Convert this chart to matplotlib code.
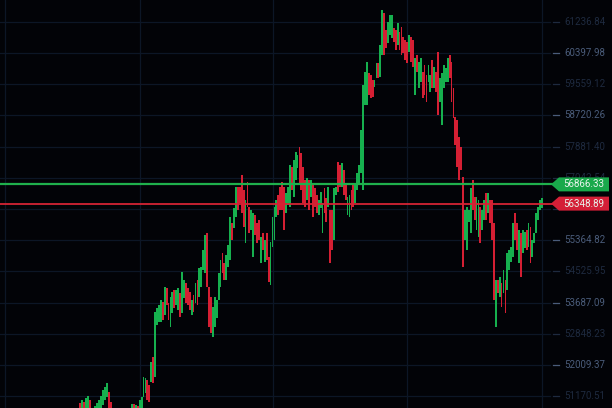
import matplotlib
matplotlib.use('Agg')
import matplotlib.pyplot as plt
from matplotlib.patches import Polygon
from matplotlib.transforms import blended_transform_factory

# candle open / close prices, left to right
opens = [
    50984, 50796, 51011, 50742, 50850, 51065, 50850, 50742, 50527, 50688,
    50742, 50796, 50930, 51065, 51146, 51280, 51011, 50796, 50661, 50204,
    50527, 50258, 50392, 50634, 50742, 50419, 50527, 50634, 50957, 50661,
    50904, 50742, 50796, 51146, 51253, 51603, 51469, 51549, 52222, 51684,
    53083, 53164, 53164, 53702, 53352, 54079, 53675, 53029, 53406, 54025,
    53621, 53487, 53944, 53406, 53810, 54213, 54079, 53971, 53352, 53891,
    53675, 54294, 53837, 54106, 54563, 54483, 55559, 54106, 53837, 52760,
    53029, 53272, 53756, 54106, 55021, 54752, 54294, 54644, 54832, 55828,
    55694, 55990, 56797, 56797, 57120, 56716, 55290, 56931, 56259, 55640,
    54913, 56043, 55828, 55909, 54752, 55559, 54779, 55559, 54913, 54160,
    55182, 55371, 55990, 56582, 56797, 56931, 56797, 56097, 56312, 56259,
    57335, 56528, 56985, 57308, 57873, 57712, 57335, 56985, 56447, 56985,
    56528, 56851, 56770, 56582, 56043, 56232, 55559, 56770, 56501, 56259,
    56178, 56178, 55371, 56582, 57470, 57389, 56797, 57254, 56904, 56043,
    55990, 56716, 56851, 56366, 56716, 56851, 57174, 56716, 59003, 59003,
    59865, 59811, 59676, 59488, 59730, 60134, 59757, 60349, 61479, 61022,
    60672, 60887, 60806, 61076, 61022, 60618, 60968, 61102, 60833, 60753,
    60699, 60430, 60833, 60753, 59273, 60349, 59461, 59622, 59891, 60080,
    59811, 59622, 59353, 60214, 59461, 59891, 60430, 59084, 58465, 59461,
    59622, 59622, 60349, 60161, 59461, 58681, 58600, 58142, 57873, 57066,
    55371, 55101, 55855, 55559, 56985, 56528, 55640, 55451, 56259, 55640,
    55909, 56635, 56097, 56447, 56447, 55828, 53029, 54294, 53837, 54213,
    53944, 54294, 54025, 54563, 54779, 54913, 56097, 55828, 54752, 55559,
    55021, 55155, 55640, 55182, 55720, 54913, 55290, 55559, 55909, 56178,
    56232,
]
closes = [
    50742, 51065, 50661, 51119, 51173, 50634, 50527, 50392, 50904, 50984,
    51065, 51173, 51334, 51415, 51522, 50742, 50581, 50392, 50258, 50581,
    50123, 50581, 50688, 50312, 50365, 50796, 50850, 50957, 50688, 50930,
    50634, 51065, 51146, 51684, 51657, 51065, 51011, 52088, 51522, 53433,
    53541, 53621, 53756, 53218, 54106, 53621, 53218, 53837, 53971, 53541,
    54025, 54079, 53299, 54509, 54294, 53675, 53621, 53487, 53756, 53433,
    54213, 53621, 54617, 54644, 55101, 55505, 54106, 53029, 52868, 53568,
    53837, 53756, 54483, 54832, 54483, 54294, 54967, 55236, 55990, 55371,
    56232, 56797, 56178, 56366, 56097, 55720, 56447, 56259, 55559, 56178,
    56097, 55505, 55290, 55371, 55451, 55101, 55371, 54832, 54240, 55317,
    55990, 56259, 56447, 56043, 56178, 56178, 55640, 56635, 56797, 57389,
    56716, 57523, 57739, 57658, 56904, 56716, 56366, 56259, 57039, 56178,
    56985, 55990, 56259, 56097, 56447, 56662, 56366, 56097, 55855, 56797,
    54752, 55101, 56770, 56797, 56662, 56797, 57443, 56582, 56447, 56528,
    56582, 56178, 56259, 56904, 57174, 57389, 58331, 59542, 59891, 60161,
    59273, 59192, 59219, 59676, 60134, 59730, 60618, 61560, 60349, 60537,
    61237, 61425, 61425, 60699, 60483, 61210, 60483, 60349, 60403, 60214,
    60134, 60887, 60161, 60026, 60268, 59891, 60161, 60268, 59192, 59273,
    59084, 60080, 59811, 59461, 60026, 59353, 58734, 59730, 59865, 60080,
    59999, 60268, 59730, 59084, 58654, 57927, 57335, 56985, 57254, 54644,
    56178, 56259, 56178, 56770, 56178, 55909, 56528, 56447, 55290, 56178,
    56447, 55909, 56635, 55828, 55371, 53756, 54294, 53944, 54375, 53568,
    54563, 53406, 55021, 55101, 55182, 55828, 55371, 55101, 55640, 54375,
    55640, 55586, 55101, 55828, 54752, 55371, 55559, 56097, 56259, 56447,
    56501,
]

tick_values = [61236.84, 60397.98, 59559.12, 58720.26, 57881.40, 57042.54, 56203.68,
               55364.82, 54525.95, 53687.09, 52848.23, 52009.37, 51170.51]
tick_labels = ['61236.84', '60397.98', '59559.12', '58720.26', '57881.40', '57042.54', '56203.68',
               '55364.82', '54525.95', '53687.09', '52848.23', '52009.37', '51170.51']

ask_price = 56866.33
bid_price = 56348.89

bg = '#020307'
up_col = '#16b04e'
down_col = '#d51f33'
W, H = 612, 408

fig = plt.figure(figsize=(W / 100, H / 100), dpi=100, facecolor=bg)
ax = fig.add_axes([0, 0, 1, 1])
ax.set_facecolor(bg)
ax.axis('off')

n = len(opens)
step = (542 - 80) / (n - 1)          # pixels per candle
left = -80 / step
ax.set_xlim(left, left + W / step)
px = (tick_values[0] - tick_values[-1]) / (396 - 22)   # price per pixel
ax.set_ylim(tick_values[-1] - (H - 396) * px, tick_values[0] + 22 * px)

blend = blended_transform_factory(ax.transAxes, ax.transData)

# grid
for v in tick_values:
    ax.plot([0, 550 / W], [v, v], transform=blend, color='#0c1626', lw=0.9, zorder=0)
for xp in [5, 140, 273, 407, 542]:
    ax.axvline(left + xp / step, color='#0c1626', lw=0.9, zorder=0)

# candles
x = list(range(n))
heights = [c - o for o, c in zip(opens, closes)]
colors = [up_col if c >= o else down_col for o, c in zip(opens, closes)]
ax.bar(x, heights, bottom=opens, width=0.95, color=colors, linewidth=0, zorder=2)

# price lines
ax.plot([0, 553 / W], [ask_price, ask_price], transform=blend, color='#1fb04c', lw=1.6, zorder=3)
ax.plot([0, 553 / W], [bid_price, bid_price], transform=blend, color='#d42434', lw=1.3, zorder=3)

# axis labels (the one under the bid tag is hidden in the reference)
fam = ['Roboto', 'DejaVu Sans']
bright = [0, 1, 0, 1, 0, 0, 0, 1, 0, 1, 0, 1, 0]
for v, lab, b in zip(tick_values, tick_labels, bright):
    c = '#4a5c7a' if b else '#1e2a3f'
    if abs(v - bid_price) > 7 * px:
        ax.text(564 / W, v, lab, transform=blend, ha='left', va='center',
                color=c, fontsize=7, family=fam, zorder=4)
    ax.plot([553 / W, 559 / W], [v, v], transform=blend, color=c, lw=0.9, zorder=4)

# price tags
for price, col in [(ask_price, '#19a94b'), (bid_price, '#d41f37')]:
    hh = 7 * px
    pts = [(551 / W, price), (559 / W, price + hh), (609 / W, price + hh),
           (609 / W, price - hh), (559 / W, price - hh)]
    ax.add_patch(Polygon(pts, closed=True, transform=blend, facecolor=col,
                         edgecolor='none', zorder=5))
    ax.text(584 / W, price, '%.2f' % price, transform=blend, ha='center', va='center',
            color='#e8f4ec', fontsize=7, family=fam, zorder=6)

fig.savefig('out.png', dpi=100, facecolor=bg)
